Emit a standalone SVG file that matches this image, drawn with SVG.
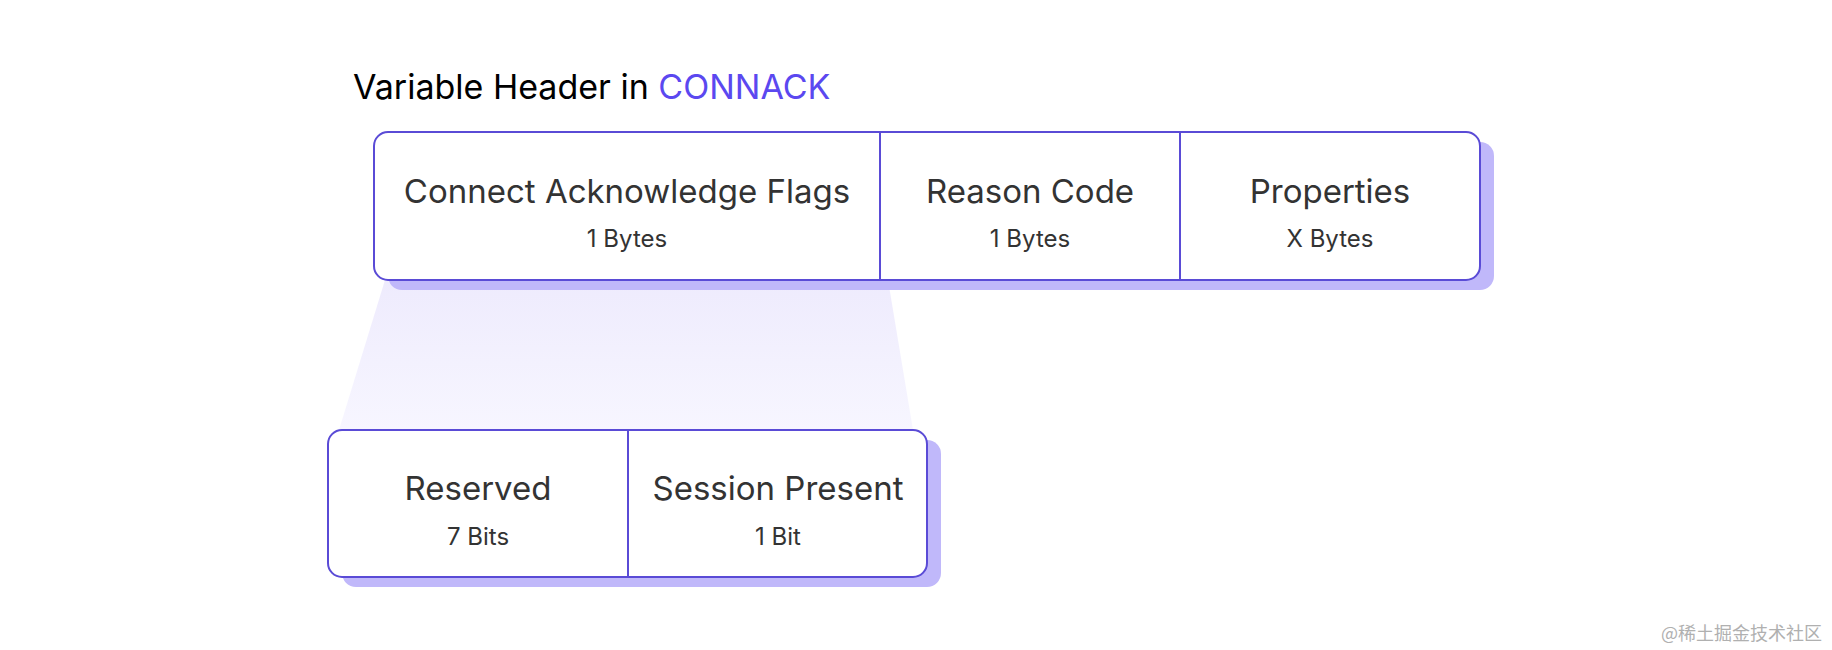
<svg xmlns="http://www.w3.org/2000/svg" width="1832" height="650" viewBox="0 0 1832 650">
<style>
.box{fill:#fff;stroke:#5a4bd6;stroke-width:2}
.sh{fill:#c0b8fa}
.div{stroke:#5a4bd6;stroke-width:2}
.t{font-family:Inter,"Noto Sans",sans-serif;fill:#333;text-anchor:middle}
.m{font-size:33px}
.s{font-size:24px}
</style>
<defs>
<linearGradient id="g" x1="0" y1="0" x2="0" y2="1">
<stop offset="0" stop-color="#eeebfd"/><stop offset="1" stop-color="#f7f6ff"/>
</linearGradient>
</defs>
<rect width="1832" height="650" fill="#fff"/>
<g id="title"><text x="353" y="99" font-family="Inter,'Noto Sans',sans-serif" font-size="34" fill="#000">Variable Header in <tspan fill="#5b48f0">CONNACK</tspan></text></g>
<g id="connectors"><polygon points="385,280 888,280 913,430 339,430" fill="url(#g)"/></g>
<g id="header">
<rect class="sh" x="388" y="142" width="1106" height="148" rx="14"/>
<rect class="box" x="374" y="132" width="1106" height="148" rx="14"/>
<line class="div" x1="880" y1="132" x2="880" y2="280"/>
<line class="div" x1="1180" y1="132" x2="1180" y2="280"/>
<text class="t m" x="627" y="203">Connect Acknowledge Flags</text>
<text class="t s" x="627" y="247">1 Bytes</text>
<text class="t m" x="1030" y="203">Reason Code</text>
<text class="t s" x="1030" y="247">1 Bytes</text>
<text class="t m" x="1330" y="203">Properties</text>
<text class="t s" x="1330" y="247">X Bytes</text>
</g>
<g id="flags">
<rect class="sh" x="342" y="440" width="599" height="147" rx="14"/>
<rect class="box" x="328" y="430" width="599" height="147" rx="14"/>
<line class="div" x1="628" y1="430" x2="628" y2="577"/>
<text class="t m" x="478" y="500">Reserved</text>
<text class="t s" x="478" y="545">7 Bits</text>
<text class="t m" x="778" y="500">Session Present</text>
<text class="t s" x="778" y="545">1 Bit</text>
</g>
<text x="1822" y="640" text-anchor="end" font-family="'Noto Sans CJK SC',sans-serif" font-size="18" fill="#b0b0b0">@稀土掘金技术社区</text>
</svg>
